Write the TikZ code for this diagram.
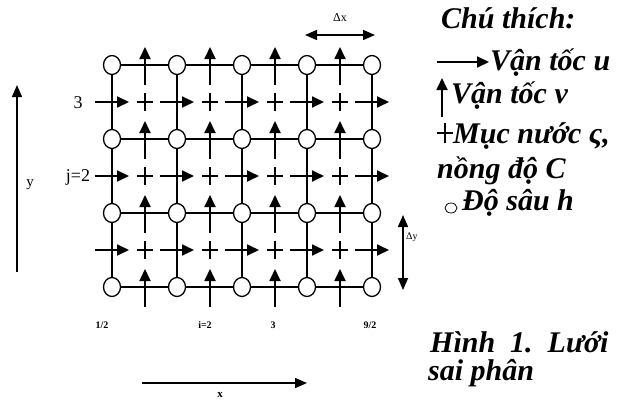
\documentclass[tikz,border=0pt]{standalone}
\usepackage{fontspec}
\setmainfont{Liberation Serif}
\usetikzlibrary{arrows.meta,shapes.geometric}
\begin{document}
\begin{tikzpicture}[x=1pt,y=-1pt,
  hnode/.style={ellipse,draw,fill=white,line width=1.3pt,minimum width=17pt,minimum height=19pt,inner sep=0pt},
  gridline/.style={line width=1.3pt},
  vel/.style={line width=1.8pt,-{Triangle[length=12pt,width=11pt]}},
  axisarrow/.style={line width=1.5pt,-{Triangle[length=12pt,width=10pt]}},
  dbl/.style={line width=1.5pt,{Triangle[length=12pt,width=10pt]}-{Triangle[length=12pt,width=10pt]}},
  pluss/.style={line width=1.2pt},
  lbl/.style={inner sep=0pt,font=\fontsize{18}{18}\selectfont},
  smalllbl/.style={inner sep=0pt,font=\fontsize{10}{10}\selectfont\bfseries},
  legend/.style={anchor=base west,inner sep=0pt,font=\fontsize{30}{32}\selectfont\bfseries\itshape},
  caption/.style={anchor=base west,inner sep=0pt,font=\fontsize{30}{32}\selectfont\bfseries\itshape}
]
\useasboundingbox (0,0) rectangle (626,399);
% depth nodes
\foreach \px [count=\ci from 0] in {112,177,242,307,372}
  \foreach \py [count=\cj from 0] in {65,139,213,287}
    \node[hnode] (h\ci\cj) at (\px,\py) {};
% grid lines
\foreach \a/\b in {0/1,1/2,2/3,3/4}
  \foreach \r in {0,...,3}
    \draw[gridline] (h\a\r) -- (h\b\r);
\foreach \c in {0,...,4}
  \foreach \a/\b in {0/1,1/2,2/3}
    \draw[gridline] (h\c\a) -- (h\c\b);
% v velocities
\foreach \px in {145,210,275,340}
  \foreach \py in {65,139,213,287}
    \draw[vel] ({\px},{\py+20}) -- ({\px},{\py-18});
% u velocities
\foreach \px in {112,177,242,307,372}
  \foreach \py in {102,176,250}
    \draw[vel] ({\px-17},{\py}) -- ({\px+17},{\py});
% water level points
\foreach \px in {145,210,275,340}
  \foreach \py in {102,176,250}
    \draw[pluss] ({\px-8},{\py}) -- ({\px+8},{\py}) ({\px},{\py-9}) -- ({\px},{\py+9});
% row / column labels
\node[lbl] (r3) at (78,103) {3};
\node[lbl] (r2) at (78,177) {j=2};
\node[smalllbl] (c1) at (102,325) {1/2};
\node[smalllbl] (c2) at (205,325) {i=2};
\node[smalllbl] (c3) at (273,325) {3};
\node[smalllbl] (c4) at (370,325) {9/2};
% axes
\coordinate (ya) at (17,272);
\coordinate (yb) at (17,85);
\draw[axisarrow] (ya) -- (yb);
\node[inner sep=0pt,font=\fontsize{15}{15}\selectfont] (ylab) at (30,185) {y};
\coordinate (xa) at (142,383);
\coordinate (xb) at (307,383);
\draw[axisarrow] (xa) -- (xb);
\node[inner sep=0pt,font=\fontsize{11}{11}\selectfont\bfseries] (xlab) at (220,395) {x};
% spacing arrows
\coordinate (dxa) at (305,35);
\coordinate (dxb) at (375,35);
\draw[dbl] (dxa) -- (dxb);
\node[inner sep=0pt,font=\fontsize{12}{12}\selectfont] (dxlab) at (340,18) {Δx};
\coordinate (dya) at (403,215);
\coordinate (dyb) at (403,290);
\draw[dbl] (dya) -- (dyb);
\node[inner sep=0pt,anchor=west,font=\fontsize{10}{10}\selectfont] (dylab) at (406,237) {Δy};
% legend
\node[legend] (lg0) at (441,28) {Chú thích:};
\coordinate (lua) at (437,62);
\coordinate (lub) at (489,62);
\draw[vel] (lua) -- (lub);
\node[legend] (lg1) at (490,70) {Vận tốc u};
\coordinate (lva) at (442,117);
\coordinate (lvb) at (442,78);
\draw[vel] (lva) -- (lvb);
\node[legend] (lg2) at (451,103) {Vận tốc v};
\draw[pluss] (437,133) -- (453,133) (445,123) -- (445,143);
\node[legend] (lg3) at (453,143) {Mục nước ς,};
\node[legend] (lg4) at (437,178) {nồng độ C};
\draw[line width=0.8pt] (451,208) ellipse [x radius=6, y radius=5];
\node[legend] (lg5) at (462,210) {Độ sâu h};
% caption
\node[caption] (cap1) at (430,352) {Hình~~1.~~Lưới};
\node[caption] (cap2) at (428,380) {sai phân};
\end{tikzpicture}
\end{document}
